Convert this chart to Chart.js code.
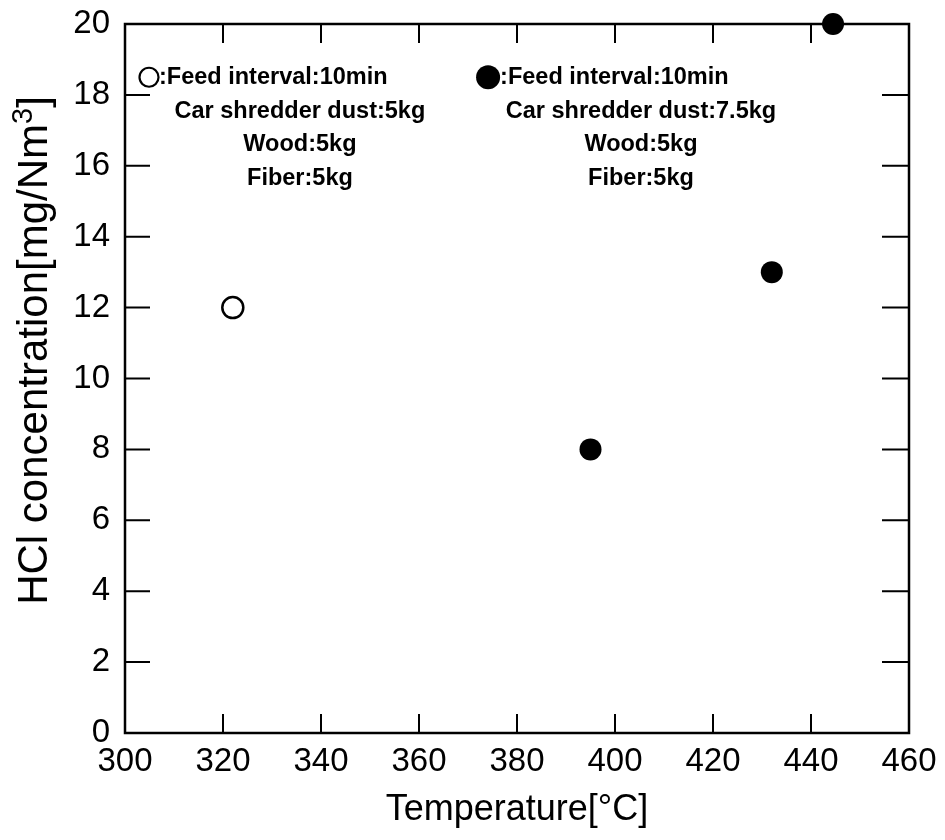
<!DOCTYPE html>
<html>
<head>
<meta charset="utf-8">
<script src="https://cdn.jsdelivr.net/npm/chart.js@4.4.1/dist/chart.umd.min.js"></script>
<style>
  html, body { margin: 0; padding: 0; background: #fff; }
  #wrap { width: 945px; height: 840px; }
</style>
</head>
<body>
<div id="wrap"><canvas id="hclChart" width="945" height="840"></canvas></div>
<script>
// === Data ===
const openTemp = [322];
const openHCl = [12];
const filledTemp = [395, 432, 444.5];
const filledHCl = [8, 13, 20];

const xTicks = [300, 320, 340, 360, 380, 400, 420, 440, 460];
const yTicks = [0, 2, 4, 6, 8, 10, 12, 14, 16, 18, 20];

const openNote = [":Feed interval:10min", "Car shredder dust:5kg", "Wood:5kg", "Fiber:5kg"];
const filledNote = [":Feed interval:10min", "Car shredder dust:7.5kg", "Wood:5kg", "Fiber:5kg"];

// note anchors in data units: [symbol x, text-centre x, first line y]
const openNoteAt = [304.9, 335.7, 18.3];
const filledNoteAt = [374.1, 405.3, 18.3];

const FONT = "'Liberation Sans', Arial, sans-serif";

// === Frame, inward ticks, y title and the two notes ===
const framePlugin = {
  id: "frame",
  afterDraw(chart) {
    const { ctx, chartArea: a, scales } = chart;
    const x = scales.x, y = scales.y;
    ctx.save();
    ctx.strokeStyle = "#000";
    ctx.lineWidth = 2.5;
    ctx.strokeRect(a.left, a.top, a.right - a.left, a.bottom - a.top);

    ctx.lineWidth = 2;
    ctx.beginPath();
    xTicks.forEach(v => {
      const px = x.getPixelForValue(v);
      ctx.moveTo(px, a.bottom); ctx.lineTo(px, a.bottom - 19);
      ctx.moveTo(px, a.top); ctx.lineTo(px, a.top + 19);
    });
    yTicks.forEach(v => {
      const py = y.getPixelForValue(v);
      ctx.moveTo(a.left, py); ctx.lineTo(a.left + 25, py);
      ctx.moveTo(a.right, py); ctx.lineTo(a.right - 27, py);
    });
    ctx.stroke();

    drawYTitle(ctx, a);
    drawNote(ctx, x, y, openNote, openNoteAt, false);
    drawNote(ctx, x, y, filledNote, filledNoteAt, true);
    ctx.restore();
  }
};

// y title with a real superscript 3
function drawYTitle(ctx, a) {
  const main = "HCl concentration[mg/Nm";
  const big = "42px " + FONT, small = "29px " + FONT;
  ctx.save();
  ctx.fillStyle = "#000";
  ctx.font = big;
  const w1 = ctx.measureText(main).width;
  const w3 = ctx.measureText("]").width;
  ctx.font = small;
  const w2 = ctx.measureText("3").width;
  const total = w1 + w2 + w3;
  const mid = (a.top + a.bottom) / 2 - 28;
  ctx.translate(a.left - 78, mid + total / 2);
  ctx.rotate(-Math.PI / 2);
  ctx.textAlign = "left";
  ctx.textBaseline = "alphabetic";
  ctx.font = big;
  ctx.fillText(main, 0, 0);
  ctx.font = small;
  ctx.fillText("3", w1, -15);
  ctx.font = big;
  ctx.fillText("]", w1 + w2, 0);
  ctx.restore();
}

function drawNote(ctx, x, y, lines, at, filled) {
  const sx = x.getPixelForValue(at[0]);
  const cx = x.getPixelForValue(at[1]);
  const by = y.getPixelForValue(at[2]);
  const step = 33.5;

  ctx.fillStyle = "#000";
  ctx.font = "bold 23.5px " + FONT;
  ctx.textBaseline = "alphabetic";

  ctx.beginPath();
  if (filled) {
    ctx.arc(sx, by - 7, 12, 0, Math.PI * 2);
    ctx.fill();
  } else {
    ctx.arc(sx, by - 7, 9.5, 0, Math.PI * 2);
    ctx.lineWidth = 2.2;
    ctx.stroke();
  }

  ctx.textAlign = "left";
  ctx.fillText(lines[0], sx + (filled ? 12 : 10), by);
  ctx.textAlign = "center";
  for (let i = 1; i < lines.length; i++) {
    ctx.fillText(lines[i], cx, by + step * i);
  }
}

const ctx = document.getElementById("hclChart").getContext("2d");
new Chart(ctx, {
  type: "scatter",
  data: {
    datasets: [
      {
        label: "open",
        data: openTemp.map((t, i) => ({ x: t, y: openHCl[i] })),
        pointRadius: 10.5,
        pointBorderWidth: 2.5,
        pointBorderColor: "#000",
        pointBackgroundColor: "#fff",
        clip: false
      },
      {
        label: "filled",
        data: filledTemp.map((t, i) => ({ x: t, y: filledHCl[i] })),
        pointRadius: 11,
        pointBorderWidth: 0,
        pointBackgroundColor: "#000",
        clip: false
      }
    ]
  },
  options: {
    responsive: false,
    animation: false,
    layout: { padding: { top: 24, right: 36, left: 0, bottom: 0 } },
    plugins: {
      legend: { display: false },
      tooltip: { enabled: false }
    },
    scales: {
      x: {
        type: "linear",
        min: 300,
        max: 460,
        afterBuildTicks: s => { s.ticks = xTicks.map(v => ({ value: v })); },
        afterFit: s => { s.height = 107; s.paddingLeft = 0; s.paddingRight = 0; },
        grid: { display: false, drawTicks: false },
        border: { display: false },
        ticks: {
          color: "#000",
          padding: 9,
          maxRotation: 0,
          font: { family: FONT, size: 33 }
        },
        title: {
          display: true,
          text: "Temperature[°C]",
          color: "#000",
          font: { family: FONT, size: 36 },
          padding: { top: 0, bottom: 8 }
        }
      },
      y: {
        type: "linear",
        min: 0,
        max: 20,
        afterBuildTicks: s => { s.ticks = yTicks.map(v => ({ value: v })); },
        afterFit: s => { s.width = 125; s.paddingTop = 0; s.paddingBottom = 0; },
        grid: { display: false, drawTicks: false },
        border: { display: false },
        ticks: {
          color: "#000",
          padding: 15,
          font: { family: FONT, size: 33 }
        },
        title: { display: false }
      }
    }
  },
  plugins: [framePlugin]
});
</script>
</body>
</html>
